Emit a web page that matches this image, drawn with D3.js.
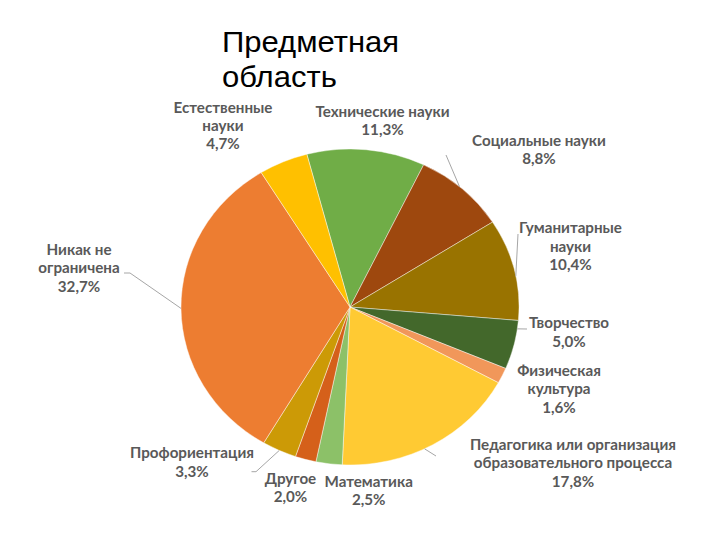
<!DOCTYPE html>
<html>
<head>
<meta charset="utf-8">
<script src="https://cdn.jsdelivr.net/npm/d3@7"></script>
<style>
  html, body { margin: 0; padding: 0; background: #fff; }
  svg { display: block; }
</style>
</head>
<body>
<svg id="chart" width="720" height="540"></svg>
<script>
// ---- data ----
const categories = [
  "Технические науки",
  "Социальные науки",
  "Гуманитарные науки",
  "Творчество",
  "Физическая культура",
  "Педагогика или организация образовательного процесса",
  "Математика",
  "Другое",
  "Профориентация",
  "Никак не ограничена",
  "Естественные науки"
];
const values = [11.3, 8.8, 10.4, 5.0, 1.6, 17.8, 2.5, 2.0, 3.3, 32.7, 4.7];
const valueLabels = ["11,3%", "8,8%", "10,4%", "5,0%", "1,6%", "17,8%", "2,5%", "2,0%", "3,3%", "32,7%", "4,7%"];
const labelLines = [
  ["Технические науки"],
  ["Социальные науки"],
  ["Гуманитарные", "науки"],
  ["Творчество"],
  ["Физическая", "культура"],
  ["Педагогика или организация", "образовательного процесса"],
  ["Математика"],
  ["Другое"],
  ["Профориентация"],
  ["Никак не", "ограничена"],
  ["Естественные", "науки"]
];
const titleLines = ["Предметная", "область"];

// ---- style / layout ----
const colors = ["#70AD47", "#9E480E", "#997300", "#43682B", "#F1975A", "#FFCA33",
                "#8CC168", "#D5601A", "#CC9A06", "#ED7D31", "#FFC000"];
const cx = 350, cy = 307, rx = 169, ry = 158;
const stretchX = 1.07;
const startDeg = -14.8;
// label anchors: [centerX, firstBaselineY]
const labelPos = [
  [382.5, 116.7], [539, 146], [570.5, 233.3], [569, 328.3], [559, 376],
  [573, 450], [368.7, 486.7], [290.5, 484], [192, 458.3], [79, 255], [223, 112.7]
];
const lineH = 18.3;
// leader lines: label-side points, and fraction along the slice where it meets the pie
const leaders = [
  null,
  {pts: [[446, 155]], frac: 0.46},
  {pts: [[518, 234]], frac: 0.57},
  {pts: [[527, 329]], frac: 0.17},
  null,
  {pts: [[436, 456]], frac: 0.55},
  null,
  null,
  {pts: [[251.5, 471.7], [256, 471.7]], frac: 0.5},
  {pts: [[124, 273], [130, 273]], frac: 0.5},
  null
];

const svg = d3.select("#chart");

// title
const titleX = 222;
svg.append("g")
  .attr("transform", `translate(${titleX},0) scale(${stretchX},1) translate(${-titleX},0)`)
  .selectAll("text").data(titleLines).join("text")
  .attr("x", titleX)
  .attr("y", (d, i) => 52 + i * 35.5)
  .attr("font-family", "'Liberation Sans', Arial, sans-serif")
  .attr("font-size", 29)
  .attr("fill", "#000")
  .text(d => d);

// pie
const pie = d3.pie().sort(null).value(d => d)
  .startAngle(startDeg * Math.PI / 180)
  .endAngle(startDeg * Math.PI / 180 + 2 * Math.PI);
const arcs = pie(values);
const arc = d3.arc().innerRadius(0).outerRadius(rx);

const g = svg.append("g")
  .attr("transform", `translate(${cx},${cy}) scale(1,${ry / rx})`);
g.selectAll("path").data(arcs).join("path")
  .attr("d", arc)
  .attr("fill", (d, i) => colors[i])
  .attr("stroke", "#ffffff")
  .attr("stroke-opacity", 0.55)
  .attr("stroke-width", 0.8)
  .attr("vector-effect", "non-scaling-stroke");

// leader lines
const lg = svg.append("g");
arcs.forEach((a, i) => {
  const L = leaders[i];
  if (!L) return;
  const ang = a.startAngle + (a.endAngle - a.startAngle) * L.frac;
  const end = [cx + rx * Math.sin(ang), cy - ry * Math.cos(ang)];
  const pts = L.pts.concat([end]);
  lg.append("path")
    .attr("d", d3.line()(pts))
    .attr("fill", "none")
    .attr("stroke", "#A6A6A6")
    .attr("stroke-width", 1);
});

// labels
const lab = svg.append("g")
  .attr("font-family", "Lato, 'Open Sans', sans-serif")
  .attr("font-weight", "bold")
  .attr("font-size", 14.2)
  .attr("fill", "#595959")
  .attr("text-anchor", "middle");
categories.forEach((c, i) => {
  const lines = labelLines[i].concat([valueLabels[i]]);
  const x = labelPos[i][0];
  const t = lab.append("text")
    .attr("transform", `translate(${x},0) scale(${stretchX},1) translate(${-x},0)`);
  lines.forEach((ln, j) => {
    t.append("tspan")
      .attr("x", x)
      .attr("y", labelPos[i][1] + j * lineH)
      .text(ln);
  });
});
</script>
</body>
</html>
